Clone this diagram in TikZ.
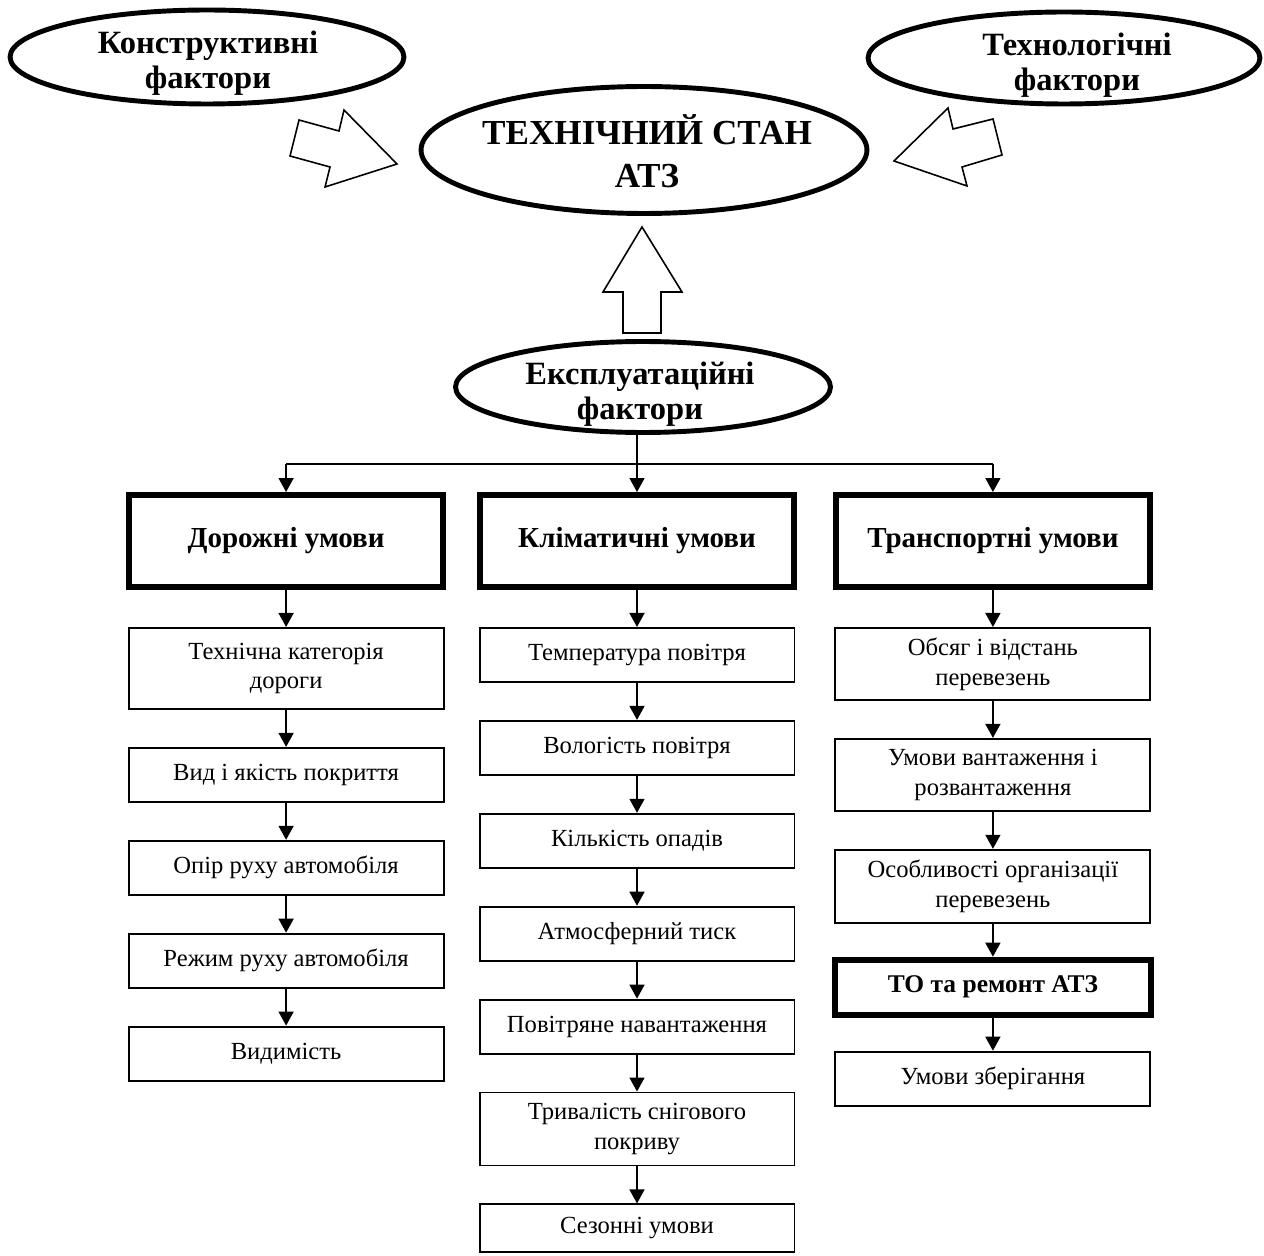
\documentclass[tikz,border=0pt]{standalone}
\usepackage{fontspec}
\setmainfont{Liberation Serif}
\usetikzlibrary{shapes.geometric,positioning,arrows.meta}

\tikzset{
  oval/.style={ellipse, draw, line width=2.8pt, inner sep=0pt},
  ovaltext/.style={align=center, inner sep=0pt, font=\fontsize{18.5}{20}\selectfont\bfseries},
  headbox/.style={rectangle, draw, line width=3.4pt, minimum width=6.28cm,
    minimum height=1.84cm, font=\fontsize{16.5}{19}\selectfont\bfseries},
  factbox/.style={rectangle, draw, line width=1.1pt, minimum width=6.3cm,
    minimum height=1.08cm, align=center, font=\fontsize{14}{17}\selectfont},
  arr/.style={line width=0.9pt, -{Triangle[length=0.28cm,width=0.3cm]}},
  blockarr/.style={draw, line width=0.9pt, fill=white, line join=miter},
}

\begin{document}
\begin{tikzpicture}[x=0.02cm, y=-0.02cm, node distance=0.74cm]
      \useasboundingbox (0,0) rectangle (1264,1256);

      % factors round the technical state
      \node[oval, minimum width=8.92cm, minimum height=2.54cm] (tstan) at (644,150) {};
      \node[ovaltext, font=\fontsize{20}{24.4}\selectfont\bfseries] (tstan-t) at (647,151) {ТЕХНІЧНИЙ СТАН\\АТЗ};
      \node[oval, minimum width=7.88cm, minimum height=1.88cm] (konstr) at (207,57) {};
      \node[ovaltext] (konstr-t) at (208,63) {Конструктивні\\фактори};
      \node[oval, minimum width=7.84cm, minimum height=1.84cm] (tekhn) at (1064,58) {};
      \node[ovaltext] (tekhn-t) at (1077,65) {Технологічні\\фактори};
      \node[oval, minimum width=7.5cm, minimum height=1.82cm] (ekspl) at (643,387) {};
      \node[ovaltext] (ekspl-t) at (640,394) {Експлуатаційні\\фактори};

      \draw[blockarr] (299,120) -- (339,131) -- (344,110) -- (397,164) -- (325,187) -- (330,167) -- (290,156) -- cycle;
      \draw[blockarr] (993,119) -- (953,129) -- (948,108) -- (894,161) -- (967,186) -- (962,167) -- (1002,155) -- cycle;
      \draw[blockarr] (623,333) -- (623,292) -- (603,292) -- (642,227) -- (682,292) -- (661,292) -- (661,333) -- cycle;

      % groups of conditions
      \node[headbox] (klim) at (637,541) {Кліматичні умови};
      \node[headbox, left=0.62cm of klim] (dor) {Дорожні умови};
      \node[headbox, right=0.72cm of klim] (transp) {Транспортні умови};

      \node[factbox, below=of dor, minimum height=1.62cm] (kat) {Технічна категорія\\дороги};
      \node[factbox, below=of kat] (pokr) {Вид і якість покриття};
      \node[factbox, below=of pokr] (opir) {Опір руху автомобіля};
      \node[factbox, below=of opir] (rezhym) {Режим руху автомобіля};
      \node[factbox, below=of rezhym] (vyd) {Видимість};

      \node[factbox, below=of klim] (temp) {Температура повітря};
      \node[factbox, below=of temp] (volog) {Вологість повітря};
      \node[factbox, below=of volog] (opady) {Кількість опадів};
      \node[factbox, below=of opady] (tysk) {Атмосферний тиск};
      \node[factbox, below=of tysk] (viter) {Повітряне навантаження};
      \node[factbox, below=of viter, minimum height=1.46cm] (snig) {Тривалість снігового\\покриву};
      \node[factbox, below=of snig, minimum height=0.96cm] (sezon) {Сезонні умови};

      \node[factbox, below=of transp, minimum height=1.44cm] (obsyag) {Обсяг і відстань\\перевезень};
      \node[factbox, below=of obsyag, minimum height=1.44cm] (vantazh) {Умови вантаження і\\розвантаження};
      \node[factbox, below=of vantazh, minimum height=1.46cm] (org) {Особливості організації\\перевезень};
      \node[headbox, below=0.66cm of org, minimum width=6.32cm, minimum height=1.1cm,
        font=\fontsize{14.5}{17}\selectfont\bfseries] (remont) {ТО та ремонт АТЗ};
      \node[factbox, below=0.66cm of remont] (zber) {Умови зберігання};

      % connectors
      \coordinate (rozv) at (637,464);
      \draw[line width=0.9pt] (ekspl.south -| rozv) -- (rozv);
      \draw[line width=0.9pt] (dor.north |- rozv) -- (transp.north |- rozv);
      \path[arr] (dor.north |- rozv) edge (dor) (rozv) edge (klim) (transp.north |- rozv) edge (transp);

      \path[arr] (dor) edge (kat) (kat) edge (pokr) (pokr) edge (opir) (opir) edge (rezhym) (rezhym) edge (vyd);
      \path[arr] (klim) edge (temp) (temp) edge (volog) (volog) edge (opady) (opady) edge (tysk)
        (tysk) edge (viter) (viter) edge (snig) (snig) edge (sezon);
      \path[arr] (transp) edge (obsyag) (obsyag) edge (vantazh) (vantazh) edge (org) (org) edge (remont)
        (remont) edge (zber);
\end{tikzpicture}
\end{document}
